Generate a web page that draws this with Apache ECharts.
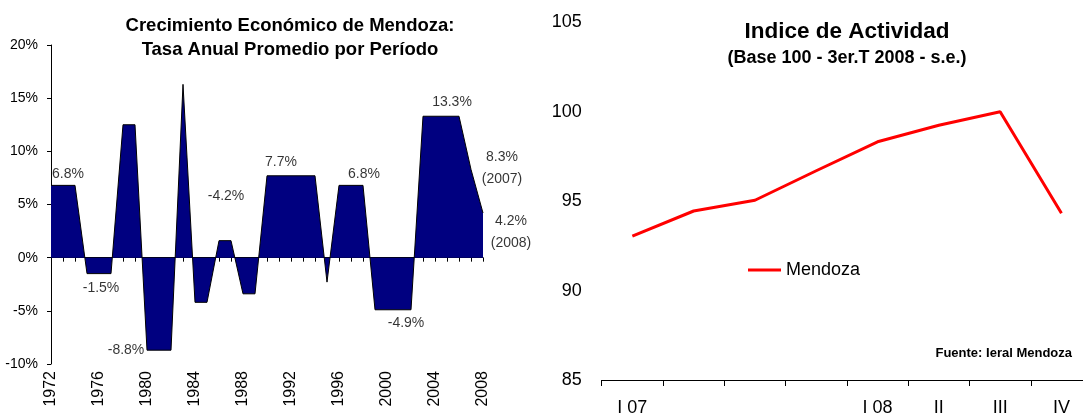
<!DOCTYPE html>
<html><head><meta charset="utf-8">
<script src="https://cdn.jsdelivr.net/npm/echarts@6/dist/echarts.min.js"></script>
<style>html,body{margin:0;padding:0;background:#fff}#c{width:1083px;height:416px}</style>
</head><body><div id="c"></div>
<script>
// Left chart: yearly growth (period average), 1972-2008
var years = ['1972','1973','1974','1975','1976','1977','1978','1979','1980','1981','1982','1983','1984','1985','1986','1987','1988','1989','1990','1991','1992','1993','1994','1995','1996','1997','1998','1999','2000','2001','2002','2003','2004','2005','2006','2007','2008'];
var growth = [6.8,6.8,6.8,-1.5,-1.5,-1.5,12.5,12.5,-8.7,-8.7,-8.7,16.3,-4.2,-4.2,1.6,1.6,-3.4,-3.4,7.7,7.7,7.7,7.7,7.7,-2.3,6.8,6.8,6.8,-4.9,-4.9,-4.9,-4.9,13.3,13.3,13.3,13.3,8.3,4.2];
var labelYears = ['1973','1976','1980','1985','1992','1997','2001','2005','2007','2008'];
var labelTexts = ['6.8%','-1.5%','-8.8%','-4.2%','7.7%','6.8%','-4.9%','13.3%','8.3%\n(2007)','4.2%\n(2008)'];
// Right chart: activity index
var quarters = ['I 07','','','','I 08','II','III','IV'];
var mendoza = [93.05,94.45,95.05,96.7,98.32,99.24,100.0,94.32];

var FONT = 'Arial, "Liberation Sans", sans-serif';
var labelOffsets = [[5,-11],[2,15],[-21,0],[19,-106],[-10,-14],[13,-11],[7,13],[5,-14],[31,-1],[28,19]];
var labelData = labelYears.map(function(y,i){
  return {value:[y, growth[years.indexOf(y)]],
    label:{show:true, formatter:labelTexts[i], offset:labelOffsets[i]}};
});

var chart = echarts.init(document.getElementById('c'), null, {renderer:'canvas'});
chart.setOption({
  animation:false,
  backgroundColor:'#fff',
  textStyle:{fontFamily:FONT},
  title:[
    {text:'Crecimiento Económico de Mendoza:\nTasa Anual Promedio por Período', left:285, top:9, textAlign:'center',
     textStyle:{fontSize:18.5, fontWeight:'bold', color:'#000', lineHeight:24, fontFamily:FONT}},
    {text:'Indice de Actividad', subtext:'(Base 100 - 3er.T 2008 - s.e.)', left:842, top:15, textAlign:'center', itemGap:6,
     textStyle:{fontSize:22.5, fontWeight:'bold', color:'#000', fontFamily:FONT},
     subtextStyle:{fontSize:18, fontWeight:'bold', color:'#000', fontFamily:FONT}},
    {text:'Fuente: Ieral Mendoza', right:6, top:342,
     textStyle:{fontSize:13, fontWeight:'bold', color:'#000', fontFamily:FONT}}
  ],
  legend:{data:['Mendoza'], left:743, top:256, icon:'rect', itemWidth:33, itemHeight:3,
    textStyle:{fontSize:18, color:'#000', fontFamily:FONT}},
  grid:[
    {left:51, top:45, width:432, height:319, containLabel:false, outerBoundsMode:'none'},
    {left:601.7, top:22.3, width:490.4, height:357.7, containLabel:false, outerBoundsMode:'none'}
  ],
  xAxis:[
    {type:'category', gridIndex:0, data:years, boundaryGap:false,
     axisLine:{onZero:true, lineStyle:{color:'#000', width:1}},
     axisTick:{show:true, interval:0, length:4, lineStyle:{color:'#000'}},
     axisLabel:{show:false}, splitLine:{show:false}},
    {type:'category', gridIndex:0, data:years, boundaryGap:false, position:'bottom',
     axisLine:{show:false, onZero:false}, axisTick:{show:false},
     axisLabel:{show:true, interval:3, rotate:90, fontSize:16, color:'#000', margin:7, fontFamily:FONT},
     splitLine:{show:false}},
    {type:'category', gridIndex:1, data:quarters, boundaryGap:true,
     axisLine:{lineStyle:{color:'#000', width:1}},
     axisTick:{show:true, interval:0, length:6, lineStyle:{color:'#000'}},
     axisLabel:{show:true, interval:0, fontSize:18, color:'#000', margin:19, fontFamily:FONT},
     splitLine:{show:false}}
  ],
  yAxis:[
    {type:'value', gridIndex:0, min:-10, max:20, interval:5,
     axisLine:{show:true, lineStyle:{color:'#000'}},
     axisTick:{show:true, length:4, lineStyle:{color:'#000'}},
     axisLabel:{formatter:'{value}%', fontSize:14, color:'#000', margin:13, fontFamily:FONT},
     splitLine:{show:false}},
    {type:'value', gridIndex:1, min:85, max:105, interval:5,
     axisLine:{show:false}, axisTick:{show:false},
     axisLabel:{fontSize:18, color:'#000', margin:20, fontFamily:FONT},
     splitLine:{show:false}}
  ],
  series:[
    {type:'line', name:'Crecimiento', xAxisIndex:0, yAxisIndex:0, data:growth,
     symbol:'none', lineStyle:{color:'#000', width:1},
     areaStyle:{color:'#000080', opacity:1, origin:0}, z:2},
    {type:'scatter', name:'labels', xAxisIndex:0, yAxisIndex:0, data:labelData,
     symbolSize:1, itemStyle:{color:'rgba(0,0,0,0)'}, silent:true, z:5,
     label:{show:true, position:'inside', align:'center', verticalAlign:'middle', fontSize:14, lineHeight:22, color:'#000', fontFamily:FONT}},
    {type:'line', name:'Mendoza', xAxisIndex:2, yAxisIndex:1, data:mendoza,
     symbol:'none', lineStyle:{color:'#ff0000', width:3}, itemStyle:{color:'#ff0000'}}
  ]
});
</script></body></html>
